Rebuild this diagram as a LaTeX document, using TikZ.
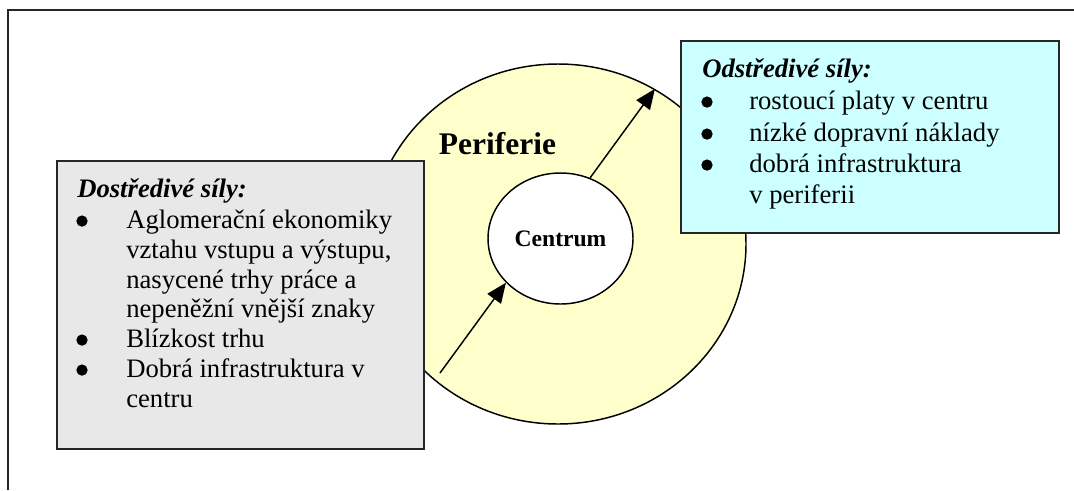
\documentclass[tikz,border=0pt]{standalone}
\usepackage{fontspec}
\setmainfont{LiberationSerif}[Extension=.ttf, UprightFont=*-Regular, BoldFont=*-Bold, ItalicFont=*-Italic, BoldItalicFont=*-BoldItalic]
\usetikzlibrary{shapes.geometric,arrows.meta}
\definecolor{periyellow}{HTML}{FFFFCC}
\definecolor{cyanfill}{HTML}{CCFFFF}
\definecolor{grayfill}{HTML}{E8E8E8}
\begin{document}
\begin{tikzpicture}[x=0.75pt,y=-0.75pt,
  body/.style={inner sep=0pt, anchor=base west, font=\fontsize{20}{24}\selectfont},
  headtxt/.style={inner sep=0pt, anchor=base west, font=\fontsize{20}{24}\selectfont\bfseries\itshape},
  bul/.style={circle, fill=black, inner sep=0pt, minimum size=8.5pt, yshift=5.2pt},
  forcebox/.style={draw=black!85, line width=1.3pt, anchor=north west, inner sep=0pt},
  ring/.style={ellipse, draw=black, line width=1.1pt, inner sep=0pt},
  force/.style={line width=1.1pt, -{Triangle[length=15pt,width=12.5pt]}},
  frameline/.style={line width=1.5pt, draw=black!85}]
\useasboundingbox (0,0) rectangle (1074,490);
\fill[white] (0,0) rectangle (1074,490);
% frame
\draw[frameline] (8,490) -- (8,10) -- (1074,10);
% rings
\node[ring, fill=periyellow, minimum width=282pt, minimum height=270pt] (per) at (558,244) {};
\node[ring, fill=white, minimum width=108.75pt, minimum height=98.25pt,
      font=\fontsize{17.7}{20}\selectfont\bfseries] (cen) at (560.5,238.5) {Centrum};
\node[inner sep=0pt, anchor=base, font=\fontsize{23.6}{28}\selectfont\bfseries] (perlabel) at (497.5,154) {Periferie};
% arrows
\coordinate (intail) at (440,373);
\draw[force] (intail) -- (cen.219);
\draw[force] (cen.64) -- (per.58);
% centripetal box
\node[forcebox, fill=grayfill, minimum width=275.25pt, minimum height=216pt] (gbox) at (56,160) {};
\node[headtxt] (ghead) at (77,197) {Dostředivé síly:};
\node[bul] (gb1) at (82,228) {};
\node[body] (g1) at (126,228) {Aglomerační ekonomiky};
\node[body] (g2) at (126,258) {vztahu vstupu a výstupu,};
\node[body] (g3) at (126,288) {nasycené trhy práce a};
\node[body] (g4) at (126,317) {nepeněžní vnější znaky};
\node[bul] (gb2) at (82,347) {};
\node[body] (g5) at (126,347) {Blízkost trhu};
\node[bul] (gb3) at (82,377) {};
\node[body] (g6) at (126,377) {Dobrá infrastruktura v};
\node[body] (g7) at (126,407) {centru};
% centrifugal box
\node[forcebox, fill=cyanfill, minimum width=283.5pt, minimum height=144pt] (cbox) at (680,40) {};
\node[headtxt] (chead) at (702,77) {Odstředivé síly:};
\node[bul] (cb1) at (707,109) {};
\node[body] (c1) at (749,109) {rostoucí platy v centru};
\node[bul] (cb2) at (707,141) {};
\node[body] (c2) at (749,141) {nízké dopravní náklady};
\node[bul] (cb3) at (707,172) {};
\node[body] (c3) at (749,172) {dobrá infrastruktura};
\node[body] (c4) at (749,203) {v periferii};
\end{tikzpicture}
\end{document}
